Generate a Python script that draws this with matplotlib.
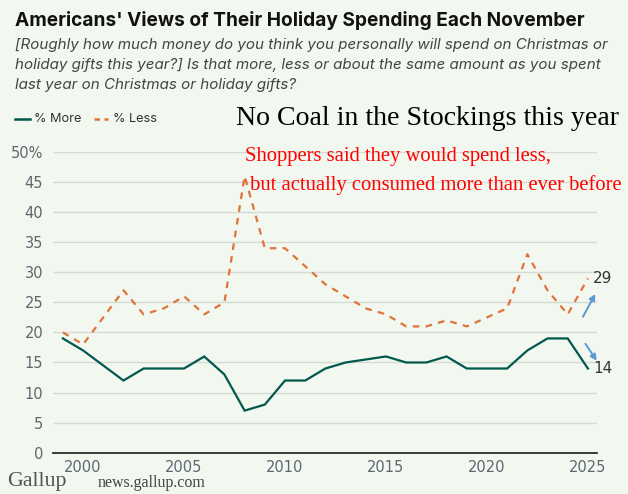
import matplotlib
matplotlib.use("Agg")
import matplotlib.pyplot as plt

# Gallup: planned holiday spending vs last year (no 2001 reading)
years = [1999, 2000, 2002, 2003, 2004, 2005, 2006, 2007, 2008, 2009, 2010, 2011, 2012,
         2013, 2014, 2015, 2016, 2017, 2018, 2019, 2020, 2021, 2022, 2023, 2024, 2025]
pct_more = [19, 17, 12, 14, 14, 14, 16, 13, 7, 8, 12, 12, 14,
            15, 15.5, 16, 15, 15, 16, 14, 14, 14, 17, 19, 19, 14]
pct_less = [20, 18, 27, 23, 24, 26, 23, 25, 46, 34, 34, 31, 28,
            26, 24, 23, 21, 21, 22, 21, 22.5, 24, 33, 27, 23, 29]
yticks = [0, 5, 10, 15, 20, 25, 30, 35, 40, 45, 50]
ytick_labels = ["0", "5", "10", "15", "20", "25", "30", "35", "40", "45", "50%"]
xticks = [2000, 2005, 2010, 2015, 2020, 2025]

bg = "#f2f8f0"
green = "#00594c"
orange = "#e0733a"
blue = "#5b9bd5"
W, H = 628, 494

fig = plt.figure(figsize=(W / 100, H / 100), dpi=100, facecolor=bg)
ax = fig.add_axes([53 / W, 1 - 452.7 / H, (597 - 53) / W, (452.7 - 152) / H])
ax.set_facecolor(bg)

ax.plot(years, pct_more, color=green, lw=1.6, solid_joinstyle="miter", zorder=3)
ax.plot(years, pct_less, color=orange, lw=1.6, dashes=(3, 2.8), zorder=3)

ax.set_xlim(1998.51, 2025.45)
ax.set_ylim(0, 50)
ax.set_yticks(yticks)
ax.set_yticklabels(ytick_labels)
ax.set_xticks(xticks)
ax.grid(axis="y", color="#d5dbd3", lw=1.0, zorder=0)
ax.set_axisbelow(True)
for s in ["top", "right", "left"]:
    ax.spines[s].set_visible(False)
ax.spines["bottom"].set_color("#2b2b2b")
ax.spines["bottom"].set_linewidth(1.3)
ax.spines["bottom"].set_zorder(4)
ax.tick_params(axis="both", length=0, labelsize=10.5, labelcolor="#5c6770")
ax.tick_params(axis="y", pad=7)
ax.tick_params(axis="x", pad=5)

# end labels
ax.text(2025.25, pct_less[-1], str(pct_less[-1]), fontsize=11, color="#333333",
        va="center", ha="left", clip_on=False)
ax.text(2025.25, pct_more[-1], str(pct_more[-1]), fontsize=11, color="#333333",
        va="center", ha="left", clip_on=False)

# blue arrows
ax.annotate("", xy=(2025.43, 26.8), xytext=(2024.69, 22.2),
            arrowprops=dict(arrowstyle="-|>", color=blue, lw=1.4, mutation_scale=9),
            annotation_clip=False)
ax.annotate("", xy=(2025.51, 14.9), xytext=(2024.8, 18.5),
            arrowprops=dict(arrowstyle="-|>", color=blue, lw=1.4, mutation_scale=9),
            annotation_clip=False)

# header
fig.text(15 / W, 1 - 20 / H, "Americans' Views of Their Holiday Spending Each November",
         fontsize=13.75, fontweight="bold", family="Inter", color="#111111", va="center")
sub = ["[Roughly how much money do you think you personally will spend on Christmas or",
       "holiday gifts this year?] Is that more, less or about the same amount as you spent",
       "last year on Christmas or holiday gifts?"]
for i, line in enumerate(sub):
    fig.text(15 / W, 1 - (45 + i * 20) / H, line, fontsize=10.9, style="italic",
             family="Inter", color="#444444", va="center")

# legend
ly = 1 - 119 / H
fig.add_artist(plt.Line2D([15 / W, 30 / W], [ly, ly], color=green, lw=1.8))
fig.text(34 / W, ly, "% More", fontsize=9.2, family="Inter", color="#333333", va="center")
fig.add_artist(plt.Line2D([94 / W, 108 / W], [ly, ly], color=orange, lw=1.8, dashes=(2.2, 1.8)))
fig.text(113 / W, ly, "% Less", fontsize=9.2, family="Inter", color="#333333", va="center")

# annotations
fig.text(236 / W, 1 - 118 / H, "No Coal in the Stockings this year", fontsize=20.1,
         family="Liberation Serif", color="black", va="center")
fig.text(245 / W, 1 - 157 / H, "Shoppers said they would spend less,", fontsize=14.9,
         family="Liberation Serif", color="red", va="center")
fig.text(245 / W, 1 - 185 / H, " but actually consumed more than ever before", fontsize=14.9,
         family="Liberation Serif", color="red", va="center")

# footer
fig.text(7 / W, 1 - 481 / H, "Gallup", fontsize=15.8, family="Liberation Serif",
         color="#555555", va="center")
fig.text(98 / W, 1 - 483 / H, "news.gallup.com", fontsize=11.5, family="Liberation Serif",
         color="#444444", va="center")

fig.savefig("out.png", dpi=100, facecolor=bg)
